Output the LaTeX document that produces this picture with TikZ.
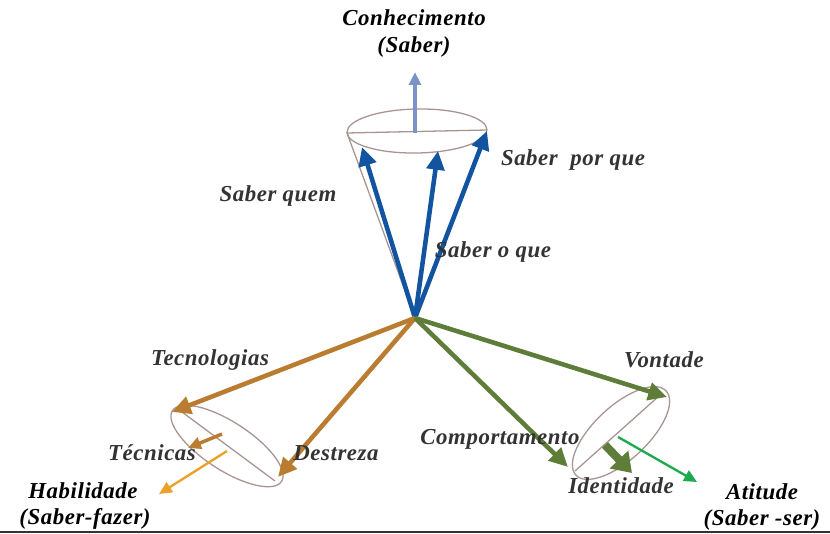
\documentclass[tikz,border=0pt]{standalone}
\usepackage{fontspec}
\setmainfont{Liberation Serif}
\newfontfamily\lblfont[LetterSpace=2.5]{Liberation Serif}
\usetikzlibrary{arrows.meta}

\definecolor{knowblue}{HTML}{1254A0}
\definecolor{skyblue}{HTML}{7C93C9}
\definecolor{skilltan}{HTML}{B97C30}
\definecolor{skillorange}{HTML}{EBA22A}
\definecolor{attgreen}{HTML}{5E7D38}
\definecolor{brightgreen}{HTML}{1DAA4E}
\definecolor{rimcol}{HTML}{A89592}
\definecolor{labelgray}{HTML}{333333}

\begin{document}
\begin{tikzpicture}[x=0.03cm,y=-0.03cm,
    lbl/.style={font=\lblfont\bfseries\itshape\fontsize{19.5}{21}\selectfont,
        text=labelgray, inner sep=0pt},
    ttl/.style={lbl, text=black},
    rim/.style={draw=rimcol, line width=1.1pt},
    bigarr/.style={line width=3.9pt, -{Triangle[length=16pt,width=15pt]}},
    thinarr/.style={line width=2pt, -{Triangle[length=11pt,width=10pt]}}]
    \useasboundingbox (0,0) rectangle (830,534);

    % centre and rims
    \coordinate (O) at (415,318);
    \coordinate (topc) at (417,131);
    \coordinate (leftc) at (227,446);
    \coordinate (rightc) at (621,433);

    \draw[rim, rotate around={1:(topc)}] (topc) ellipse [x radius=2.1cm, y radius=0.66cm];
    \draw[rim, rotate around={-33:(leftc)}] (leftc) ellipse [x radius=1.95cm, y radius=0.72cm];
    \draw[rim, rotate around={43:(rightc)}] (rightc) ellipse [x radius=1.85cm, y radius=0.8cm];

    \coordinate (t1) at (347,133);
    \coordinate (t2) at (487,130);
    \coordinate (l1) at (182,412);
    \coordinate (l2) at (275,481);
    \coordinate (r1) at (659,396);
    \coordinate (r2) at (575,471);
    \draw[rim] (t1) -- (t2);
    \draw[rim] (l1) -- (l2);
    \draw[rim] (r1) -- (r2);
    \draw[rim] (t1) -- (O);

    % knowledge
    \coordinate (quem) at (362,147);
    \coordinate (oque) at (438,151);
    \coordinate (porque) at (487,131);
    \coordinate (kbase) at (415,133);
    \coordinate (ktip) at (415,72);
    \draw[bigarr, knowblue] (O) -- (quem);
    \draw[bigarr, knowblue] (O) -- (oque);
    \draw[bigarr, knowblue] (O) -- (porque);
    \draw[thinarr, skyblue, line width=2.6pt] (kbase) -- (ktip);

    % skills
    \coordinate (tecno) at (172,412);
    \coordinate (destr) at (278,477);
    \coordinate (tecb) at (222,434);
    \coordinate (tect) at (188,448);
    \coordinate (habb) at (227,451);
    \coordinate (habt) at (159,494);
    \draw[bigarr, skilltan] (O) -- (tecno);
    \draw[bigarr, skilltan] (O) -- (destr);
    \draw[thinarr, skilltan, line width=3pt] (tecb) -- (tect);
    \draw[thinarr, skillorange] (habb) -- (habt);

    % attitude
    \coordinate (vont) at (667,397);
    \coordinate (comp) at (568,467);
    \coordinate (idb) at (605,445);
    \coordinate (idt) at (632,473);
    \coordinate (atb) at (618,437);
    \coordinate (att) at (697,482);
    \draw[bigarr, attgreen] (O) -- (vont);
    \draw[bigarr, attgreen] (O) -- (comp);
    \draw[attgreen, line width=7pt, -{Triangle[length=16pt,width=21pt]}] (idb) -- (idt);
    \draw[thinarr, brightgreen] (atb) -- (att);

    % labels
    \node[ttl] (conh) at (414,18) {Conhecimento};
    \node[ttl] (saber) at (414,47) {(Saber)};
    \node[lbl] (lporque) at (573,160) {Saber\ \ por que};
    \node[lbl] (lquem) at (278,196) {Saber quem};
    \node[lbl] (loque) at (493,252) {Saber o que};
    \node[lbl] (ltecno) at (210,360) {Tecnologias};
    \node[lbl] (ltec) at (152,453) {Técnicas};
    \node[lbl] (ldestr) at (336,453) {Destreza};
    \node[ttl] (hab) at (83,491) {Habilidade};
    \node[ttl] (sfazer) at (85,519) {(Saber-fazer)};
    \node[lbl] (lvont) at (664,360) {Vontade};
    \node[lbl] (lcomp) at (500,439) {Comportamento};
    \node[lbl] (lid) at (621,486) {Identidade};
    \node[ttl] (atit) at (762,492) {Atitude};
    \node[ttl] (sser) at (762,520) {(Saber -ser)};

    % base line
    \coordinate (bl) at (0,532);
    \coordinate (br) at (830,532);
    \draw[labelgray, line width=1.6pt] (bl) -- (br);
\end{tikzpicture}
\end{document}
